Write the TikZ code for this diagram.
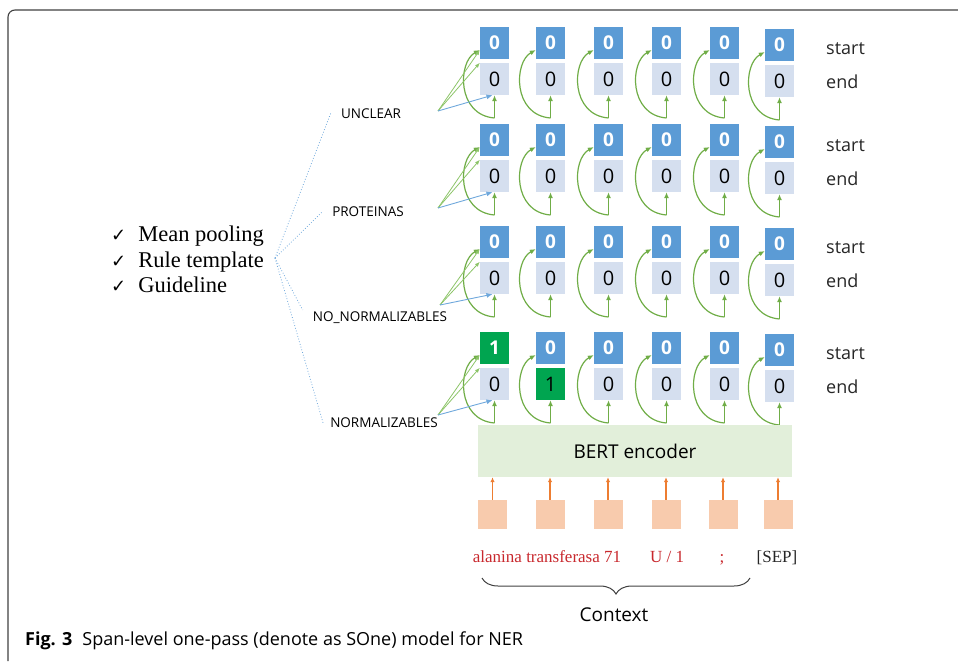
\documentclass[tikz,border=0pt]{standalone}
\usepackage{fontspec}
\setmainfont{Liberation Serif}
\newfontfamily\uifont{Open Sans}
\newfontfamily\symfont{DejaVu Sans}
\usetikzlibrary{arrows.meta,decorations.pathreplacing}
\definecolor{sblue}{HTML}{5B9BD5}
\definecolor{eblue}{HTML}{D5DFEF}
\definecolor{hgreen}{HTML}{00A550}
\definecolor{agreen}{HTML}{70AD47}
\definecolor{lgreen}{HTML}{8CC468}
\definecolor{bertfill}{HTML}{E2EFDA}
\definecolor{tokfill}{HTML}{F8CBAD}
\definecolor{aorange}{HTML}{ED7D31}
\definecolor{tred}{HTML}{C8282D}
\definecolor{lblue}{HTML}{6FA8DC}
\begin{document}
\begin{tikzpicture}[x=1pt,y=-1pt,
  startbox/.style={fill=sblue, minimum width=29pt, minimum height=32pt, inner sep=0pt,
    text=white, font=\uifont\bfseries\fontsize{19}{19}\selectfont},
  endbox/.style={fill=eblue, minimum width=29pt, minimum height=32pt, inner sep=0pt,
    text=black, font=\uifont\fontsize{20}{20}\selectfont},
  hl s41/.style={fill=hgreen},
  hl e42/.style={fill=hgreen},
  garrow/.style={agreen, line width=1.2pt, -{Latex[length=6pt,width=5pt]}},
  gline/.style={lgreen, line width=0.8pt, -{Latex[length=5pt,width=4pt]}},
  bline/.style={lblue, line width=0.9pt, -{Latex[length=6pt,width=5pt]}},
  dotline/.style={lblue, line width=0.8pt, dotted},
  cls/.style={font=\uifont\fontsize{13.5}{13.5}\selectfont, inner sep=0pt},
  selab/.style={anchor=west, inner sep=0pt, font=\uifont\fontsize{18}{18}\selectfont, text=black!85},
  tokbox/.style={fill=tokfill, minimum width=29pt, minimum height=29pt, inner sep=0pt},
  oarrow/.style={aorange, line width=1.1pt, -{Latex[length=5pt,width=4.5pt]}},
  tok/.style={font=\fontsize{17}{17}\selectfont, inner sep=0pt, anchor=base},
  frame/.style={black!75, line width=1.1pt, rounded corners=7pt}
]
\useasboundingbox (0,0) rectangle (958,661);
\draw[frame] (8,661) -- (8,10) -- (958,10);

% grid of start/end boxes
\foreach \r/\ys in {1/27,2/124,3/226,4/332}{
  \foreach \c/\cx in {1/494.5,2/550.5,3/608.5,4/666.5,5/724.5,6/779.5}{
    \pgfmathsetmacro\off{\c==6 ? 2 : 0}
    \pgfmathtruncatemacro\sv{(\r==4)&&(\c==1)}
    \pgfmathtruncatemacro\ev{(\r==4)&&(\c==2)}
    \node[startbox, hl s\r\c/.try] (s\r\c) at (\cx,\ys+16+\off) {\sv};
    \node[endbox, hl e\r\c/.try] (e\r\c) at (\cx,\ys+52+\off) {\ev};
    \coordinate (b\r\c) at (\cx,\ys+91+\off);
    \draw[garrow] (b\r\c) -- (e\r\c.south);
    \draw[garrow] (b\r\c) .. controls +(-38,-3) and +(-22,12) .. ([yshift=-7pt]s\r\c.west);
  }
  \node[selab] (st\r) at (826,\ys+22) {start};
  \node[selab] (en\r) at (826,\ys+55) {end};
}

% class labels
\node[cls] (u) at (371,114) {UNCLEAR};
\node[cls] (p) at (368,212) {PROTEINAS};
\node[cls] (nn) at (380,318) {NO\_NORMALIZABLES};
\node[cls] (n) at (384,423) {NORMALIZABLES};

\coordinate (L1) at (438,111);
\coordinate (L2) at (438,208);
\coordinate (L3) at (440,305);
\coordinate (L4) at (438,415);
\foreach \r in {1,2,3,4}{
  \draw[gline] (L\r) -- ([yshift=-7pt]s\r1.west);
  \draw[gline] (L\r) -- (e\r1.north west);
  \draw[bline] (L\r) -- ([xshift=-2pt]e\r1.south);
}

% list
\node[anchor=west, inner sep=0pt] (list) at (111,262) {%
  \fontsize{22.5}{25.5}\selectfont
  \begin{tabular}{@{}l@{\hspace{12pt}}l@{}}
  {\symfont\fontsize{18}{18}\selectfont ✓} & Mean pooling\\
  {\symfont\fontsize{18}{18}\selectfont ✓} & Rule template\\
  {\symfont\fontsize{18}{18}\selectfont ✓} & Guideline
  \end{tabular}};
\coordinate (hub) at (275,258);
\draw[dotline] (hub) -- ([xshift=-10pt,yshift=1pt]u.west);
\draw[dotline] (hub) -- ([xshift=-10pt]p.west);
\draw[dotline] (hub) -- ([xshift=-10pt,yshift=8pt]nn.west);
\draw[dotline] (hub) -- ([xshift=-7pt]n.west);

% BERT encoder
\node[fill=bertfill, minimum width=314pt, minimum height=52pt, inner sep=0pt,
  font=\uifont\fontsize{19}{19}\selectfont] (bert) at (635,451) {BERT encoder};

% tokens
\foreach \c/\cx in {1/492.5,2/550,3/608,4/666,5/723,6/778}{
  \node[tokbox] (tk\c) at (\cx,514.5) {};
  \draw[oarrow] (tk\c.north) -- (tk\c.north |- bert.south);
}
\node[tok, text=tred] (t1) at (547,562) {alanina transferasa 71};
\node[tok, text=tred] (t2) at (667,562) {U / 1};
\node[tok, text=tred] (t3) at (722,562) {;};
\node[tok, text=black!85] (t4) at (777,562) {[SEP]};

\draw[black!75, line width=1pt, decorate, decoration={brace, amplitude=16pt}]
  (750,578) -- (482,578);
\node[font=\uifont\fontsize{19}{19}\selectfont, inner sep=0pt] (ctx) at (614,615) {Context};

% caption
\node[anchor=base west, inner sep=0pt, font=\uifont\fontsize{18}{18}\selectfont] (cap) at (25,645)
  {\textbf{Fig. 3}\hspace{10pt}Span-level one-pass (denote as SOne) model for NER};
\end{tikzpicture}
\end{document}
